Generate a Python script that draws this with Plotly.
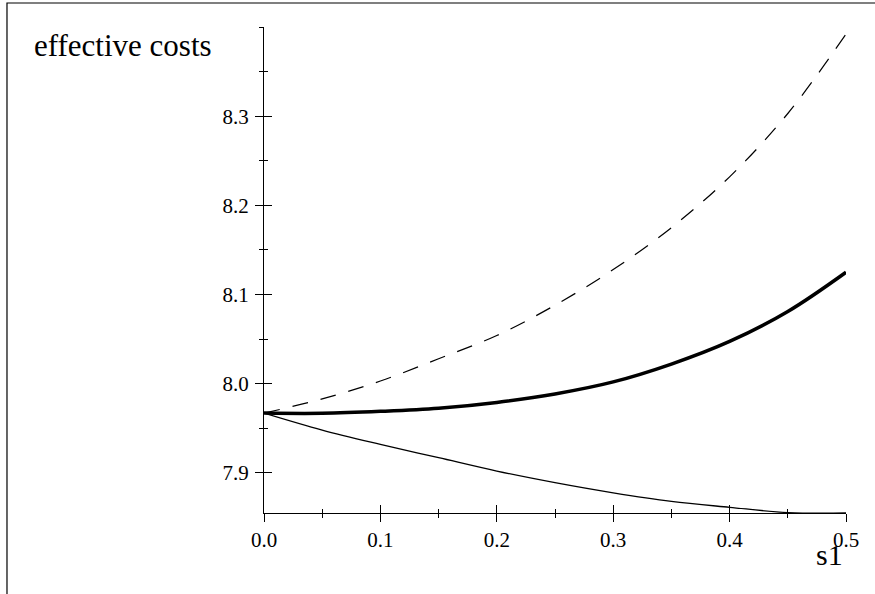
import plotly.graph_objects as go

# Data
s1 = [0.0, 0.05, 0.1, 0.15, 0.2, 0.25, 0.3, 0.35, 0.4, 0.45, 0.5]
cost_dashed = [7.967, 7.983, 8.003, 8.028, 8.054, 8.088, 8.128, 8.175, 8.232, 8.303, 8.392]
cost_thick = [7.967, 7.9668, 7.969, 7.9725, 7.979, 7.9885, 8.002, 8.022, 8.0474, 8.081, 8.125]
cost_thin = [7.967, 7.948, 7.932, 7.917, 7.902, 7.889, 7.8776, 7.868, 7.8614, 7.8555, 7.855]

x_ticks = [0.0, 0.1, 0.2, 0.3, 0.4, 0.5]
x_ticklabels = ["0.0", "0.1", "0.2", "0.3", "0.4", "0.5"]
y_ticks = [7.9, 8.0, 8.1, 8.2, 8.3]
y_ticklabels = ["7.9", "8.0", "8.1", "8.2", "8.3"]

X_RANGE = [0.0, 0.5]
Y_RANGE = [7.855, 8.40]

FONT = "Liberation Serif, Times New Roman, serif"

fig = go.Figure()
fig.add_trace(go.Scatter(x=s1, y=cost_dashed, mode="lines", line_shape="spline",
                         line=dict(color="black", width=1.2, dash="16px,13px"), showlegend=False))
fig.add_trace(go.Scatter(x=s1, y=cost_thick, mode="lines", line_shape="spline",
                         line=dict(color="black", width=3.5), showlegend=False))
fig.add_trace(go.Scatter(x=s1, y=cost_thin, mode="lines", line_shape="spline",
                         line=dict(color="black", width=1.3), showlegend=False))
# empty trace to activate the overlay axes (ticks on the inner side)
fig.add_trace(go.Scatter(x=[], y=[], xaxis="x2", yaxis="y2", showlegend=False))

common = dict(showgrid=False, zeroline=False, showline=True, linecolor="black", linewidth=1.2,
              tickcolor="black", tickwidth=1.2, ticklen=8)

fig.update_layout(
    width=875, height=594,
    margin=dict(l=264, r=29, t=27, b=81),
    paper_bgcolor="white", plot_bgcolor="white",
    font=dict(family=FONT, color="black", size=21),
    xaxis=dict(range=X_RANGE, tickvals=x_ticks, ticktext=x_ticklabels, ticks="outside",
               minor=dict(dtick=0.05, ticks="outside", ticklen=4, tickcolor="black", tickwidth=1.2),
               ticklabelstandoff=0, tickfont=dict(family=FONT, size=21), **common),
    yaxis=dict(range=Y_RANGE, tickvals=y_ticks, ticktext=y_ticklabels, ticks="outside",
               minor=dict(tick0=7.85, dtick=0.05, ticks="outside", ticklen=4, tickcolor="black", tickwidth=1.2),
               ticklabelstandoff=2, tickfont=dict(family=FONT, size=21), **common),
    xaxis2=dict(range=X_RANGE, overlaying="x", tickvals=x_ticks, ticks="inside", showticklabels=False,
                minor=dict(dtick=0.05, ticks="inside", ticklen=4, tickcolor="black", tickwidth=1.2),
                **common),
    yaxis2=dict(range=Y_RANGE, overlaying="y", tickvals=y_ticks, ticks="inside", showticklabels=False,
                minor=dict(tick0=7.85, dtick=0.05, ticks="inside", ticklen=4, tickcolor="black", tickwidth=1.2),
                **common),
    shapes=[dict(type="rect", xref="paper", yref="paper", x0=-0.4416, x1=1.1, y0=-0.2, y1=1.0494,
                 line=dict(color="black", width=1.2), fillcolor="rgba(0,0,0,0)", layer="below")],
    annotations=[
        dict(text="effective costs", xref="paper", yref="paper", x=-0.3986, y=0.962,
             xanchor="left", yanchor="middle", showarrow=False, font=dict(family=FONT, size=31)),
        dict(text="s1", xref="paper", yref="paper", x=0.9725, y=-0.085,
             xanchor="center", yanchor="middle", showarrow=False, font=dict(family=FONT, size=30)),
    ],
)

fig.write_html("out.html", config={"displayModeBar": False},
               post_script="document.body.style.margin='0';")
